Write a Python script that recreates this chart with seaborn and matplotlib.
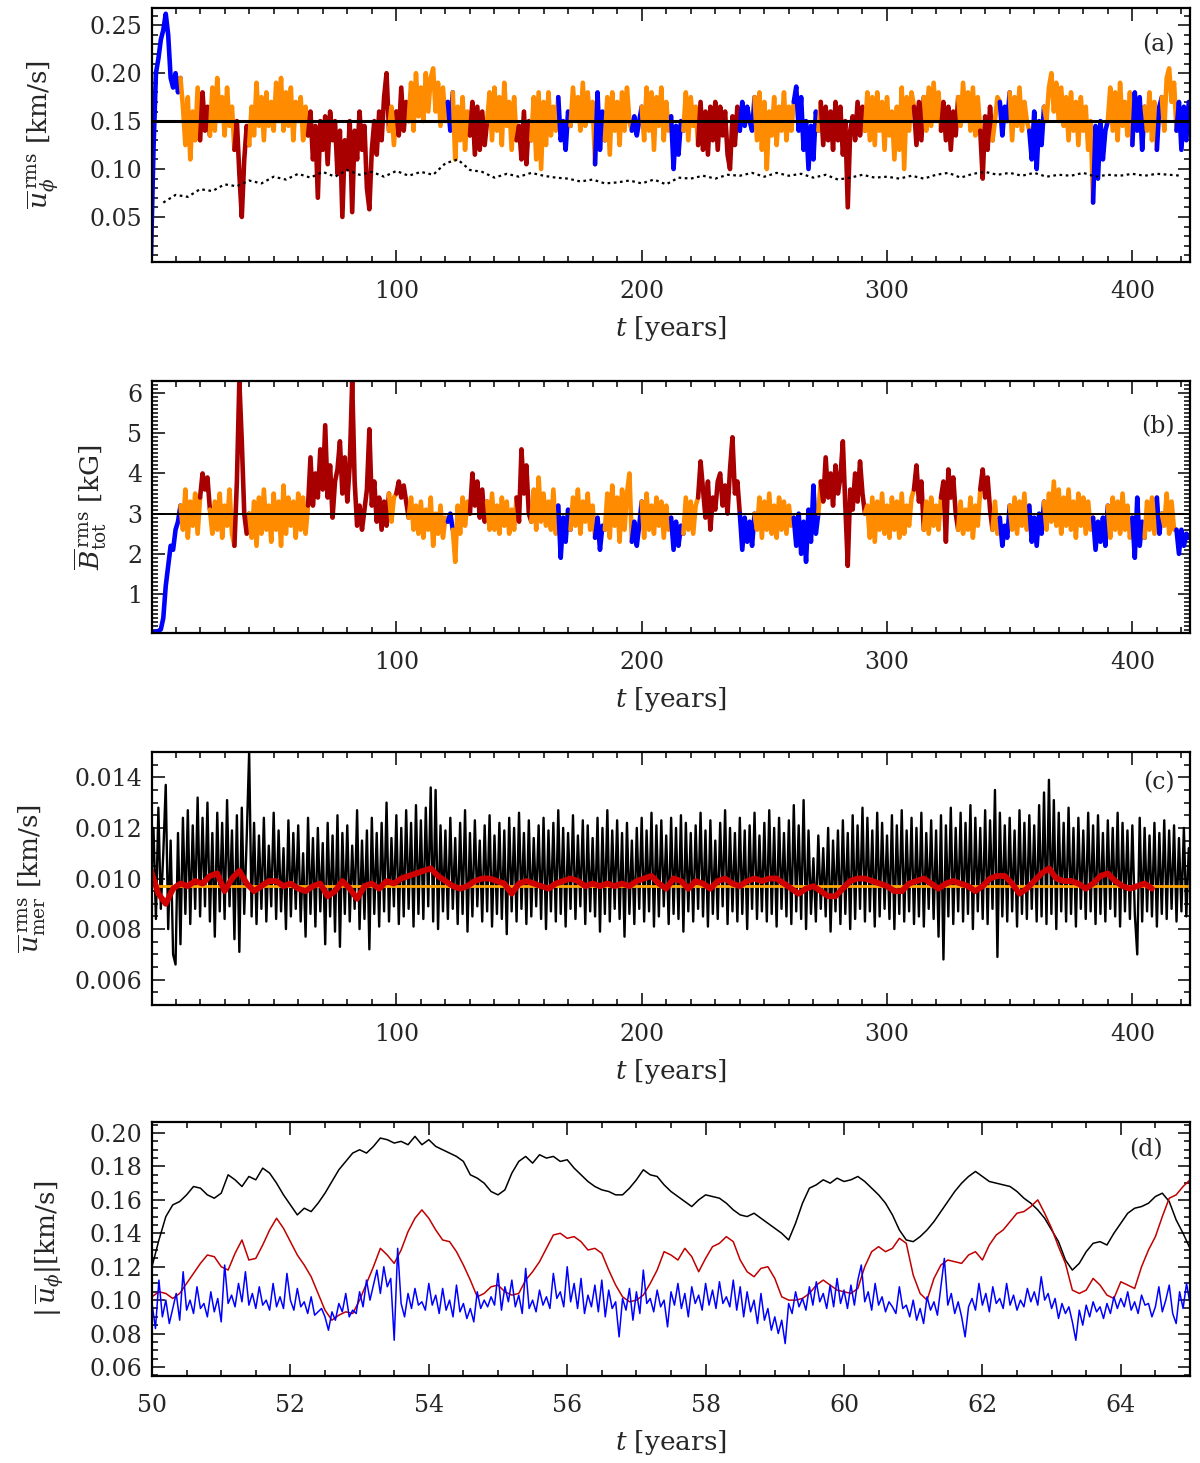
import numpy as np
import matplotlib
matplotlib.use('Agg')
import matplotlib.pyplot as plt
import seaborn as sns
from matplotlib.ticker import MultipleLocator

# ---------------------------------------------------------------------------
# Data
# ---------------------------------------------------------------------------

# (a) rms toroidal flow [km/s], one value per year from t = 0
u_phi_rms = [
    0.010, 0.120, 0.200, 0.215, 0.235, 0.245, 0.262, 0.240, 0.195, 0.185,
    0.200, 0.180, 0.195, 0.165, 0.125, 0.175, 0.110, 0.160, 0.130, 0.185,
    0.130, 0.180, 0.140, 0.165, 0.135, 0.185, 0.140, 0.195, 0.150, 0.175,
    0.135, 0.185, 0.145, 0.165, 0.120, 0.150, 0.095, 0.050, 0.110, 0.145,
    0.125, 0.165, 0.135, 0.190, 0.145, 0.175, 0.130, 0.180, 0.145, 0.170,
    0.140, 0.190, 0.150, 0.195, 0.140, 0.180, 0.145, 0.185, 0.130, 0.170,
    0.150, 0.175, 0.130, 0.165, 0.135, 0.160, 0.110, 0.145, 0.070, 0.150,
    0.120, 0.155, 0.105, 0.160, 0.130, 0.150, 0.095, 0.140, 0.050, 0.130,
    0.100, 0.150, 0.055, 0.140, 0.110, 0.160, 0.120, 0.145, 0.080, 0.058,
    0.120, 0.150, 0.115, 0.160, 0.130, 0.175, 0.200, 0.140, 0.165, 0.125,
    0.160, 0.135, 0.185, 0.140, 0.170, 0.150, 0.190, 0.140, 0.200, 0.155,
    0.185, 0.150, 0.200, 0.160, 0.195, 0.205, 0.160, 0.190, 0.145, 0.185,
    0.150, 0.170, 0.140, 0.180, 0.110, 0.165, 0.130, 0.175, 0.120, 0.160,
    0.135, 0.170, 0.115, 0.165, 0.120, 0.160, 0.125, 0.150, 0.180, 0.130,
    0.185, 0.140, 0.175, 0.125, 0.190, 0.145, 0.170, 0.120, 0.175, 0.130,
    0.145, 0.110, 0.160, 0.105, 0.150, 0.130, 0.175, 0.110, 0.180, 0.100,
    0.170, 0.125, 0.180, 0.135, 0.165, 0.140, 0.175, 0.130, 0.150, 0.120,
    0.160, 0.145, 0.185, 0.150, 0.175, 0.140, 0.190, 0.145, 0.180, 0.150,
    0.170, 0.105, 0.180, 0.120, 0.160, 0.130, 0.175, 0.115, 0.180, 0.140,
    0.170, 0.125, 0.180, 0.140, 0.185, 0.150, 0.140, 0.155, 0.135, 0.150,
    0.165, 0.130, 0.185, 0.140, 0.180, 0.120, 0.175, 0.145, 0.185, 0.130,
    0.170, 0.140, 0.155, 0.100, 0.145, 0.115, 0.150, 0.140, 0.180, 0.130,
    0.175, 0.145, 0.165, 0.125, 0.170, 0.120, 0.160, 0.115, 0.165, 0.130,
    0.170, 0.120, 0.165, 0.135, 0.160, 0.115, 0.100, 0.155, 0.125, 0.165,
    0.140, 0.170, 0.145, 0.165, 0.150, 0.140, 0.175, 0.130, 0.180, 0.120,
    0.170, 0.100, 0.160, 0.135, 0.175, 0.125, 0.165, 0.140, 0.180, 0.130,
    0.165, 0.140, 0.170, 0.186, 0.140, 0.175, 0.120, 0.150, 0.100, 0.145,
    0.110, 0.160, 0.140, 0.170, 0.125, 0.165, 0.130, 0.160, 0.120, 0.170,
    0.130, 0.165, 0.115, 0.150, 0.060, 0.140, 0.155, 0.130, 0.170, 0.135,
    0.165, 0.140, 0.180, 0.130, 0.175, 0.125, 0.180, 0.140, 0.170, 0.120,
    0.175, 0.135, 0.160, 0.110, 0.165, 0.120, 0.185, 0.100, 0.175, 0.140,
    0.180, 0.165, 0.125, 0.170, 0.130, 0.175, 0.140, 0.185, 0.145, 0.190,
    0.150, 0.180, 0.140, 0.170, 0.130, 0.165, 0.120, 0.160, 0.135, 0.175,
    0.145, 0.190, 0.150, 0.180, 0.140, 0.185, 0.135, 0.175, 0.140, 0.090,
    0.155, 0.120, 0.165, 0.130, 0.150, 0.175, 0.170, 0.135, 0.165, 0.150,
    0.180, 0.130, 0.175, 0.145, 0.185, 0.140, 0.170, 0.150, 0.140, 0.110,
    0.160, 0.100, 0.150, 0.125, 0.165, 0.150, 0.185, 0.200, 0.160, 0.190,
    0.150, 0.185, 0.145, 0.175, 0.130, 0.180, 0.140, 0.170, 0.125, 0.175,
    0.140, 0.165, 0.120, 0.150, 0.065, 0.145, 0.090, 0.150, 0.110, 0.140,
    0.150, 0.185, 0.140, 0.180, 0.130, 0.190, 0.145, 0.170, 0.135, 0.180,
    0.125, 0.180, 0.140, 0.175, 0.120, 0.165, 0.140, 0.180, 0.130, 0.170,
    0.120, 0.165, 0.175, 0.140, 0.195, 0.205, 0.170, 0.190, 0.140, 0.170,
    0.120, 0.165, 0.130, 0.170,
]

# (a) dotted black curve, every 5 years from t = 5
u_phi_ref = [
    0.065, 0.073, 0.071, 0.079, 0.077, 0.084, 0.082, 0.088, 0.085, 0.092,
    0.089, 0.095, 0.091, 0.097, 0.092, 0.099, 0.094, 0.097, 0.092, 0.098,
    0.093, 0.097, 0.094, 0.106, 0.110, 0.099, 0.097, 0.091, 0.095, 0.092,
    0.096, 0.093, 0.091, 0.090, 0.087, 0.089, 0.085, 0.086, 0.088, 0.085,
    0.089, 0.084, 0.091, 0.090, 0.093, 0.090, 0.094, 0.093, 0.096, 0.092,
    0.096, 0.093, 0.095, 0.091, 0.094, 0.089, 0.091, 0.094, 0.091, 0.092,
    0.090, 0.093, 0.090, 0.094, 0.096, 0.091, 0.095, 0.097, 0.094, 0.096,
    0.093, 0.096, 0.092, 0.094, 0.093, 0.096, 0.092, 0.094, 0.093, 0.095,
    0.093, 0.095, 0.094, 0.093,
]

# (b) rms total magnetic field [kG], one value per year from t = 0
b_tot_rms = [
    0.05, 0.05, 0.06, 0.08, 0.12, 0.40, 1.20, 1.70, 2.20, 2.10,
    2.60, 2.80, 3.20, 2.60, 3.60, 2.40, 3.30, 2.70, 3.50, 2.50,
    3.40, 4.00, 3.60, 3.90, 3.10, 2.50, 3.30, 2.60, 3.50, 2.40,
    3.20, 2.70, 3.60, 2.50, 2.20, 3.80, 6.30, 4.80, 3.00, 2.50,
    3.00, 2.40, 3.30, 2.20, 3.40, 2.50, 3.60, 2.60, 3.20, 2.30,
    3.50, 2.60, 3.30, 2.20, 3.70, 2.50, 3.40, 2.70, 3.30, 2.40,
    3.50, 2.60, 3.40, 2.50, 3.20, 4.40, 3.20, 4.00, 3.40, 4.60,
    3.60, 5.20, 3.40, 4.20, 2.90, 3.80, 4.10, 4.80, 3.50, 4.40,
    3.30, 4.20, 6.30, 3.80, 2.70, 3.20, 2.60, 3.10, 3.60, 5.10,
    3.20, 3.80, 2.80, 3.40, 2.60, 3.30, 2.70, 3.50, 2.80, 3.40,
    3.50, 3.80, 3.40, 3.70, 3.30, 2.90, 3.40, 2.60, 3.20, 2.50,
    3.30, 2.40, 3.10, 2.60, 3.40, 2.20, 3.00, 2.50, 3.20, 2.40,
    2.90, 2.80, 3.00, 2.60, 1.80, 3.20, 2.50, 3.40, 2.70, 3.30,
    3.00, 4.00, 3.20, 3.80, 2.90, 3.60, 2.80, 3.30, 2.60, 3.50,
    2.60, 3.20, 2.50, 3.40, 2.70, 3.30, 2.50, 3.10, 2.60, 3.40,
    2.80, 4.60, 3.50, 4.20, 3.00, 2.80, 3.60, 2.60, 3.90, 2.80,
    3.50, 2.70, 3.30, 2.60, 3.60, 2.50, 3.20, 1.90, 2.90, 2.30,
    3.10, 2.60, 3.40, 2.70, 3.60, 2.50, 3.30, 2.80, 3.50, 2.60,
    3.20, 2.40, 2.90, 2.10, 2.70, 2.60, 3.50, 2.40, 3.70, 2.70,
    3.40, 2.30, 3.60, 2.60, 3.50, 4.00, 2.30, 2.80, 2.20, 2.70,
    3.30, 2.40, 3.50, 2.60, 3.20, 2.50, 3.40, 2.70, 3.30, 2.40,
    3.20, 2.60, 2.90, 2.10, 2.80, 2.20, 2.70, 2.50, 3.40, 2.60,
    3.30, 2.50, 3.20, 3.40, 4.30, 3.60, 2.90, 3.80, 2.60, 3.40,
    3.10, 3.80, 4.00, 3.20, 3.70, 3.00, 4.10, 4.90, 3.50, 3.80,
    3.00, 2.10, 2.90, 2.30, 2.80, 2.20, 3.00, 2.60, 3.40, 2.40,
    3.30, 2.60, 3.50, 2.50, 3.20, 2.40, 3.40, 2.60, 3.30, 2.50,
    3.20, 2.70, 2.90, 2.20, 3.00, 2.00, 2.80, 1.80, 3.10, 2.30,
    3.70, 2.50, 3.00, 3.80, 3.30, 4.40, 3.40, 4.00, 3.20, 4.20,
    3.50, 3.90, 4.80, 3.20, 1.70, 3.60, 3.10, 4.00, 3.30, 4.30,
    3.50, 3.00, 3.20, 2.40, 3.40, 2.30, 3.30, 2.60, 3.50, 2.50,
    3.20, 2.40, 3.40, 2.60, 3.30, 2.40, 3.50, 2.50, 3.20, 2.70,
    3.40, 3.60, 4.20, 3.30, 3.80, 2.60, 3.30, 2.50, 3.40, 2.70,
    3.20, 2.60, 3.40, 3.80, 2.30, 4.10, 3.40, 3.90, 3.00, 2.60,
    3.30, 2.50, 3.10, 2.60, 3.40, 2.40, 3.20, 2.70, 3.60, 4.10,
    3.40, 3.90, 3.10, 2.60, 3.30, 2.50, 2.90, 2.20, 2.70, 2.40,
    3.20, 2.60, 3.40, 2.50, 3.30, 2.70, 3.50, 2.60, 3.20, 2.30,
    2.90, 2.20, 3.00, 2.50, 3.30, 2.60, 3.50, 2.80, 3.80, 2.70,
    3.60, 2.50, 3.40, 2.70, 3.60, 2.60, 3.30, 2.40, 3.50, 2.70,
    3.40, 2.50, 3.30, 2.60, 2.90, 2.10, 2.80, 2.30, 2.90, 2.20,
    3.20, 2.40, 3.40, 2.60, 3.30, 2.50, 3.50, 2.60, 3.20, 2.40,
    2.90, 1.90, 3.40, 2.20, 2.80, 2.40, 3.30, 2.60, 3.40, 2.50,
    3.40, 2.50, 3.00, 2.70, 3.50, 2.50, 3.30, 2.60, 2.60, 2.00,
    2.60, 2.20, 2.50, 2.40,
]

# dynamo phase of each stretch of time (colours of panels a and b)
phase_edges = [0, 12, 20, 24, 34, 40, 64, 97, 100, 105,
               121, 123, 130, 137, 149, 155, 166, 171, 181, 185,
               196, 200, 212, 217, 223, 240, 246, 262, 272, 273,
               291, 311, 315, 322, 329, 338, 343, 346, 350, 358,
               364, 384, 390, 400, 405, 410, 412, 418, 423]
phase_kind = ['low', 'mid', 'high', 'mid', 'high', 'mid', 'high', 'mid', 'high', 'mid',
              'low', 'mid', 'high', 'mid', 'high', 'mid', 'low', 'mid', 'low', 'mid',
              'low', 'mid', 'low', 'mid', 'high', 'low', 'mid', 'low', 'mid', 'high',
              'mid', 'high', 'mid', 'high', 'mid', 'high', 'mid', 'low', 'mid', 'low',
              'mid', 'low', 'mid', 'low', 'mid', 'low', 'mid', 'low']

# (c) rms meridional flow [km/s], one value per year from t = 0
u_mer_rms = [
    0.0098, 0.0120, 0.0084, 0.0128, 0.0088, 0.0110, 0.0137, 0.0080, 0.0115, 0.0070,
    0.0066, 0.0118, 0.0074, 0.0124, 0.0086, 0.0127, 0.0082, 0.0121, 0.0088, 0.0132,
    0.0085, 0.0124, 0.0089, 0.0130, 0.0083, 0.0118, 0.0077, 0.0126, 0.0087, 0.0122,
    0.0084, 0.0131, 0.0089, 0.0119, 0.0076, 0.0125, 0.0071, 0.0128, 0.0086, 0.0116,
    0.0150, 0.0085, 0.0122, 0.0082, 0.0117, 0.0088, 0.0124, 0.0083, 0.0113, 0.0089,
    0.0126, 0.0084, 0.0119, 0.0087, 0.0112, 0.0080, 0.0123, 0.0085, 0.0118, 0.0088,
    0.0121, 0.0083, 0.0110, 0.0077, 0.0124, 0.0086, 0.0116, 0.0081, 0.0120, 0.0087,
    0.0114, 0.0074, 0.0122, 0.0085, 0.0117, 0.0079, 0.0125, 0.0073, 0.0118, 0.0086,
    0.0121, 0.0083, 0.0113, 0.0088, 0.0127, 0.0080, 0.0115, 0.0084, 0.0119, 0.0072,
    0.0124, 0.0086, 0.0118, 0.0081, 0.0122, 0.0087, 0.0130, 0.0083, 0.0116, 0.0089,
    0.0125, 0.0082, 0.0120, 0.0085, 0.0127, 0.0088, 0.0122, 0.0081, 0.0129, 0.0086,
    0.0123, 0.0084, 0.0128, 0.0089, 0.0136, 0.0083, 0.0135, 0.0080, 0.0121, 0.0087,
    0.0119, 0.0084, 0.0124, 0.0088, 0.0116, 0.0082, 0.0122, 0.0086, 0.0127, 0.0079,
    0.0118, 0.0085, 0.0123, 0.0089, 0.0115, 0.0083, 0.0121, 0.0087, 0.0125, 0.0081,
    0.0117, 0.0086, 0.0122, 0.0084, 0.0119, 0.0078, 0.0124, 0.0087, 0.0120, 0.0083,
    0.0126, 0.0088, 0.0118, 0.0082, 0.0123, 0.0085, 0.0116, 0.0089, 0.0121, 0.0084,
    0.0124, 0.0080, 0.0119, 0.0087, 0.0122, 0.0083, 0.0127, 0.0086, 0.0120, 0.0081,
    0.0118, 0.0088, 0.0125, 0.0084, 0.0117, 0.0089, 0.0123, 0.0082, 0.0121, 0.0087,
    0.0116, 0.0085, 0.0124, 0.0079, 0.0120, 0.0086, 0.0127, 0.0083, 0.0119, 0.0088,
    0.0123, 0.0084, 0.0118, 0.0077, 0.0122, 0.0086, 0.0115, 0.0082, 0.0120, 0.0088,
    0.0124, 0.0083, 0.0119, 0.0087, 0.0126, 0.0081, 0.0121, 0.0085, 0.0123, 0.0089,
    0.0117, 0.0082, 0.0124, 0.0086, 0.0120, 0.0084, 0.0125, 0.0079, 0.0122, 0.0087,
    0.0118, 0.0083, 0.0121, 0.0088, 0.0126, 0.0085, 0.0119, 0.0081, 0.0123, 0.0086,
    0.0115, 0.0084, 0.0122, 0.0089, 0.0127, 0.0082, 0.0120, 0.0087, 0.0118, 0.0083,
    0.0124, 0.0086, 0.0119, 0.0080, 0.0121, 0.0088, 0.0126, 0.0084, 0.0117, 0.0087,
    0.0122, 0.0083, 0.0127, 0.0086, 0.0120, 0.0081, 0.0124, 0.0088, 0.0118, 0.0085,
    0.0123, 0.0082, 0.0129, 0.0087, 0.0121, 0.0084, 0.0131, 0.0080, 0.0119, 0.0086,
    0.0108, 0.0083, 0.0117, 0.0088, 0.0112, 0.0085, 0.0120, 0.0079, 0.0115, 0.0087,
    0.0119, 0.0082, 0.0123, 0.0086, 0.0118, 0.0080, 0.0125, 0.0084, 0.0121, 0.0088,
    0.0128, 0.0083, 0.0124, 0.0087, 0.0119, 0.0081, 0.0126, 0.0085, 0.0122, 0.0088,
    0.0117, 0.0084, 0.0125, 0.0080, 0.0121, 0.0086, 0.0127, 0.0083, 0.0119, 0.0087,
    0.0124, 0.0082, 0.0120, 0.0085, 0.0126, 0.0081, 0.0118, 0.0088, 0.0123, 0.0084,
    0.0119, 0.0077, 0.0125, 0.0068, 0.0121, 0.0085, 0.0128, 0.0082, 0.0120, 0.0087,
    0.0126, 0.0083, 0.0122, 0.0086, 0.0129, 0.0080, 0.0124, 0.0087, 0.0120, 0.0084,
    0.0127, 0.0082, 0.0123, 0.0088, 0.0135, 0.0069, 0.0126, 0.0085, 0.0121, 0.0083,
    0.0124, 0.0087, 0.0119, 0.0081, 0.0127, 0.0086, 0.0122, 0.0084, 0.0125, 0.0088,
    0.0121, 0.0083, 0.0129, 0.0085, 0.0134, 0.0082, 0.0139, 0.0086, 0.0131, 0.0080,
    0.0126, 0.0087, 0.0122, 0.0083, 0.0128, 0.0086, 0.0120, 0.0081, 0.0124, 0.0088,
    0.0119, 0.0084, 0.0126, 0.0087, 0.0121, 0.0082, 0.0125, 0.0086, 0.0118, 0.0083,
    0.0123, 0.0088, 0.0120, 0.0085, 0.0126, 0.0081, 0.0122, 0.0087, 0.0119, 0.0084,
    0.0121, 0.0086, 0.0070, 0.0124, 0.0083, 0.0120, 0.0087, 0.0117, 0.0085, 0.0122,
    0.0081, 0.0118, 0.0086, 0.0123, 0.0084, 0.0119, 0.0088, 0.0121, 0.0083, 0.0116,
    0.0087, 0.0120, 0.0085, 0.0112,
]

# (c) running mean, every 3 years from t = 0
u_mer_smooth = [
    0.0103, 0.0094, 0.0090, 0.0096, 0.0098, 0.0097, 0.0099, 0.0098, 0.0101, 0.0102,
    0.0095, 0.0100, 0.0103, 0.0098, 0.0095, 0.0097, 0.0099, 0.0099, 0.0097, 0.0098,
    0.0096, 0.0095, 0.0097, 0.0098, 0.0093, 0.0095, 0.0099, 0.0096, 0.0092, 0.0097,
    0.0098, 0.0096, 0.0099, 0.0098, 0.0100, 0.0101, 0.0102, 0.0103, 0.0104, 0.0101,
    0.0099, 0.0097, 0.0096, 0.0097, 0.0099, 0.0100, 0.0100, 0.0099, 0.0098, 0.0094,
    0.0098, 0.0099, 0.0098, 0.0097, 0.0096, 0.0098, 0.0099, 0.0100, 0.0099, 0.0097,
    0.0098, 0.0097, 0.0098, 0.0097, 0.0098, 0.0097, 0.0099, 0.0100, 0.0101, 0.0098,
    0.0096, 0.0100, 0.0099, 0.0096, 0.0099, 0.0098, 0.0096, 0.0099, 0.0100, 0.0098,
    0.0097, 0.0099, 0.0100, 0.0099, 0.0100, 0.0100, 0.0098, 0.0096, 0.0094, 0.0096,
    0.0097, 0.0095, 0.0093, 0.0093, 0.0096, 0.0099, 0.0100, 0.0100, 0.0099, 0.0098,
    0.0097, 0.0095, 0.0095, 0.0098, 0.0099, 0.0100, 0.0098, 0.0096, 0.0098, 0.0099,
    0.0098, 0.0097, 0.0095, 0.0097, 0.0100, 0.0101, 0.0101, 0.0098, 0.0094, 0.0096,
    0.0099, 0.0102, 0.0104, 0.0100, 0.0099, 0.0099, 0.0098, 0.0096, 0.0098, 0.0101,
    0.0102, 0.0099, 0.0097, 0.0096, 0.0097, 0.0098, 0.0096,
]
u_mer_mean = 0.0097

# (d) zoom on 50-65 yr: |u_phi| at three depths [km/s]
u_phi_top = [
    0.120, 0.136, 0.150, 0.157, 0.159, 0.163, 0.168, 0.167, 0.163, 0.161,
    0.164, 0.175, 0.172, 0.168, 0.174, 0.172, 0.179, 0.176, 0.170, 0.163,
    0.157, 0.151, 0.155, 0.153, 0.158, 0.164, 0.171, 0.178, 0.183, 0.188,
    0.190, 0.188, 0.192, 0.197, 0.196, 0.194, 0.195, 0.193, 0.198, 0.193,
    0.196, 0.192, 0.190, 0.188, 0.186, 0.183, 0.175, 0.173, 0.170, 0.165,
    0.163, 0.166, 0.176, 0.183, 0.186, 0.182, 0.187, 0.185, 0.186, 0.183,
    0.184, 0.179, 0.175, 0.171, 0.168, 0.166, 0.165, 0.163, 0.163, 0.167,
    0.172, 0.178, 0.175, 0.174, 0.169, 0.165, 0.162, 0.159, 0.156, 0.160,
    0.163, 0.162, 0.161, 0.158, 0.154, 0.151, 0.150, 0.152, 0.149, 0.146,
    0.143, 0.140, 0.136, 0.146, 0.158, 0.167, 0.169, 0.172, 0.170, 0.173,
    0.171, 0.172, 0.174, 0.171, 0.167, 0.163, 0.158, 0.151, 0.142, 0.136,
    0.135, 0.138, 0.142, 0.147, 0.153, 0.159, 0.165, 0.170, 0.174, 0.177,
    0.174, 0.171, 0.170, 0.169, 0.168, 0.165, 0.161, 0.158, 0.154, 0.149,
    0.142, 0.135, 0.124, 0.118, 0.122, 0.129, 0.134, 0.135, 0.133, 0.140,
    0.146, 0.152, 0.155, 0.156, 0.158, 0.162, 0.164, 0.159, 0.148, 0.140,
    0.131,
]
u_phi_mid = [
    0.102, 0.105, 0.104, 0.101, 0.104, 0.110, 0.116, 0.122, 0.127, 0.126,
    0.120, 0.118, 0.128, 0.136, 0.124, 0.125, 0.133, 0.142, 0.149, 0.143,
    0.135, 0.127, 0.121, 0.114, 0.104, 0.094, 0.088, 0.091, 0.093, 0.092,
    0.100, 0.110, 0.120, 0.131, 0.127, 0.122, 0.130, 0.141, 0.149, 0.154,
    0.149, 0.142, 0.136, 0.135, 0.129, 0.121, 0.112, 0.102, 0.104, 0.108,
    0.109, 0.105, 0.103, 0.104, 0.112, 0.117, 0.123, 0.131, 0.139, 0.140,
    0.137, 0.138, 0.135, 0.130, 0.131, 0.128, 0.118, 0.109, 0.102, 0.099,
    0.100, 0.103, 0.110, 0.118, 0.129, 0.127, 0.124, 0.131, 0.126, 0.117,
    0.125, 0.132, 0.134, 0.138, 0.135, 0.124, 0.117, 0.114, 0.119, 0.120,
    0.113, 0.102, 0.100, 0.100, 0.101, 0.104, 0.109, 0.112, 0.109, 0.106,
    0.105, 0.104, 0.107, 0.120, 0.129, 0.132, 0.129, 0.131, 0.137, 0.134,
    0.115, 0.104, 0.100, 0.113, 0.121, 0.124, 0.123, 0.122, 0.127, 0.129,
    0.124, 0.133, 0.139, 0.142, 0.147, 0.152, 0.153, 0.156, 0.160, 0.152,
    0.143, 0.132, 0.122, 0.106, 0.104, 0.106, 0.113, 0.109, 0.103, 0.101,
    0.111, 0.109, 0.107, 0.120, 0.130, 0.138, 0.150, 0.161, 0.163, 0.168,
    0.172,
]
u_phi_bot = [
    0.098, 0.083, 0.112, 0.090, 0.100, 0.086, 0.095, 0.104, 0.088, 0.117,
    0.094, 0.100, 0.092, 0.108, 0.095, 0.098, 0.090, 0.105, 0.093, 0.101,
    0.087, 0.121, 0.098, 0.103, 0.096, 0.110, 0.099, 0.117, 0.097, 0.104,
    0.095, 0.108, 0.097, 0.100, 0.094, 0.110, 0.096, 0.102, 0.095, 0.116,
    0.100, 0.094, 0.107, 0.096, 0.099, 0.092, 0.102, 0.091, 0.093, 0.095,
    0.090, 0.082, 0.093, 0.088, 0.098, 0.093, 0.104, 0.090, 0.094, 0.092,
    0.105, 0.096, 0.112, 0.100, 0.109, 0.118, 0.104, 0.120, 0.108, 0.113,
    0.076, 0.131, 0.098, 0.090, 0.104, 0.095, 0.107, 0.097, 0.099, 0.094,
    0.110, 0.097, 0.103, 0.092, 0.107, 0.094, 0.100, 0.090, 0.109, 0.093,
    0.098, 0.089, 0.095, 0.087, 0.105, 0.095, 0.100, 0.096, 0.102, 0.097,
    0.116, 0.094, 0.108, 0.099, 0.112, 0.096, 0.103, 0.092, 0.119, 0.095,
    0.100, 0.093, 0.106, 0.097, 0.102, 0.095, 0.116, 0.101, 0.105, 0.096,
    0.120, 0.099, 0.110, 0.095, 0.113, 0.092, 0.103, 0.096, 0.109, 0.093,
    0.112, 0.090, 0.106, 0.095, 0.099, 0.078, 0.101, 0.094, 0.107, 0.088,
    0.105, 0.092, 0.118, 0.098, 0.101, 0.093, 0.106, 0.096, 0.100, 0.084,
    0.105, 0.097, 0.110, 0.095, 0.104, 0.090, 0.108, 0.098, 0.103, 0.094,
    0.110, 0.097, 0.106, 0.095, 0.111, 0.098, 0.102, 0.096, 0.112, 0.094,
    0.108, 0.090, 0.105, 0.093, 0.100, 0.086, 0.104, 0.088, 0.095, 0.082,
    0.090, 0.080, 0.088, 0.074, 0.098, 0.092, 0.105, 0.096, 0.101, 0.094,
    0.108, 0.097, 0.111, 0.099, 0.104, 0.095, 0.109, 0.096, 0.113, 0.098,
    0.106, 0.095, 0.109, 0.097, 0.112, 0.121, 0.099, 0.105, 0.094, 0.110,
    0.097, 0.102, 0.093, 0.099, 0.096, 0.092, 0.108, 0.095, 0.097, 0.090,
    0.100, 0.088, 0.095, 0.086, 0.102, 0.094, 0.099, 0.091, 0.108, 0.125,
    0.097, 0.104, 0.092, 0.099, 0.090, 0.078, 0.096, 0.101, 0.094, 0.110,
    0.097, 0.104, 0.093, 0.108, 0.098, 0.101, 0.095, 0.110, 0.097, 0.103,
    0.094, 0.100, 0.096, 0.107, 0.099, 0.105, 0.097, 0.114, 0.100, 0.104,
    0.095, 0.101, 0.089, 0.098, 0.092, 0.096, 0.087, 0.076, 0.094, 0.085,
    0.097, 0.090, 0.099, 0.093, 0.096, 0.089, 0.098, 0.092, 0.102, 0.095,
    0.101, 0.096, 0.105, 0.094, 0.099, 0.092, 0.103, 0.097, 0.098, 0.090,
    0.096, 0.108, 0.093, 0.100, 0.109, 0.092, 0.086, 0.105, 0.095, 0.110,
    0.098,
]

# ---------------------------------------------------------------------------
# Style
# ---------------------------------------------------------------------------
sns.set_theme(style='ticks')
plt.rcParams['font.family'] = ['DejaVu Serif']
plt.rcParams['mathtext.fontset'] = 'dejavuserif'

PHASE_COLORS = {'low': '#0000FF', 'mid': '#FF8C00', 'high': '#A80000'}
TICK_FS = 17
LABEL_FS = 19


def style_axis(ax, xmaj, xmin, ymaj, ymin):
    ax.xaxis.set_major_locator(MultipleLocator(xmaj))
    ax.xaxis.set_minor_locator(MultipleLocator(xmin))
    ax.yaxis.set_major_locator(MultipleLocator(ymaj))
    ax.yaxis.set_minor_locator(MultipleLocator(ymin))
    ax.tick_params(which='both', direction='in', top=True, right=True,
                   color='black', width=1.1)
    ax.tick_params(which='major', length=9)
    ax.tick_params(which='minor', length=4.5)
    ax.tick_params(axis='x', which='major', pad=13, labelsize=TICK_FS)
    ax.tick_params(axis='y', which='major', pad=7, labelsize=TICK_FS)
    for sp in ax.spines.values():
        sp.set_linewidth(1.6)
        sp.set_color('black')
    ax.grid(False)


def draw_phases(ax, t, values, lw):
    t = np.asarray(t)
    values = np.asarray(values)
    for k, kind in enumerate(phase_kind):
        m = (t >= phase_edges[k]) & (t <= phase_edges[k + 1])
        sns.lineplot(x=t[m], y=values[m], color=PHASE_COLORS[kind], lw=lw,
                     estimator=None, sort=False, ax=ax)


fig = plt.figure(figsize=(12, 14.63), dpi=100)
W = 1200.0
H = 1463.0


def add_panel(top, bottom):
    return fig.add_axes([152 / W, 1 - bottom / H, (1190 - 152) / W, (bottom - top) / H])


t_year = np.arange(len(u_phi_rms))

# ---------------------------------------------------------------------------
# (a)
# ---------------------------------------------------------------------------
ax = add_panel(8, 262)
draw_phases(ax, t_year, u_phi_rms, 3.3)
t_ref = 5 + 5 * np.arange(len(u_phi_ref))
sns.lineplot(x=t_ref, y=u_phi_ref, color='black', lw=1.6, linestyle=(0, (1.2, 1.6)),
             estimator=None, sort=False, ax=ax)
ax.axhline(0.15, color='black', lw=2.2)
ax.set_xlim(0.4, 423.5)
ax.set_ylim(0.003, 0.268)
style_axis(ax, 100, 10, 0.05, 0.01)
ax.yaxis.set_major_formatter(matplotlib.ticker.FormatStrFormatter('%.2f'))
ax.set_ylabel(r'$\overline{u}_\phi^{\,\rm rms}$ [km/s]', fontsize=LABEL_FS)
ax.yaxis.set_label_coords(-0.087, 0.5)
ax.set_xlabel(r'$t$ [years]', fontsize=LABEL_FS)
ax.xaxis.set_label_coords(0.5, -0.205)
ax.text(0.985, 0.855, '(a)', transform=ax.transAxes, ha='right', va='center',
        fontsize=TICK_FS)

# ---------------------------------------------------------------------------
# (b)
# ---------------------------------------------------------------------------
ax = add_panel(381, 633)
draw_phases(ax, t_year, b_tot_rms, 3.3)
ax.axhline(3.0, color='black', lw=1.4)
ax.set_xlim(0.4, 423.5)
ax.set_ylim(0.03, 6.3)
style_axis(ax, 100, 10, 1, 0.1)
ax.set_ylabel(r'$\overline{B}_{\rm tot}^{\,\rm rms}$ [kG]', fontsize=LABEL_FS)
ax.yaxis.set_label_coords(-0.041, 0.5)
ax.set_xlabel(r'$t$ [years]', fontsize=LABEL_FS)
ax.xaxis.set_label_coords(0.5, -0.205)
ax.text(0.985, 0.82, '(b)', transform=ax.transAxes, ha='right', va='center',
        fontsize=TICK_FS)

# ---------------------------------------------------------------------------
# (c)
# ---------------------------------------------------------------------------
ax = add_panel(752, 1005)
sns.lineplot(x=t_year, y=u_mer_rms, color='black', lw=1.7,
             estimator=None, sort=False, ax=ax)
ax.axhline(u_mer_mean, color='#FFA500', lw=2.0)
t_smooth = 3 * np.arange(len(u_mer_smooth))
sns.lineplot(x=t_smooth, y=u_mer_smooth, color='#D00000', lw=4.2,
             estimator=None, sort=False, ax=ax)
ax.set_xlim(0.4, 423.5)
ax.set_ylim(0.005, 0.015)
style_axis(ax, 100, 10, 0.002, 0.0005)
ax.yaxis.set_major_formatter(matplotlib.ticker.FormatStrFormatter('%.3f'))
ax.set_ylabel(r'$\overline{u}_{\rm mer}^{\,\rm rms}$ [km/s]', fontsize=LABEL_FS)
ax.yaxis.set_label_coords(-0.100, 0.5)
ax.set_xlabel(r'$t$ [years]', fontsize=LABEL_FS)
ax.xaxis.set_label_coords(0.5, -0.205)
ax.text(0.985, 0.88, '(c)', transform=ax.transAxes, ha='right', va='center',
        fontsize=TICK_FS)

# ---------------------------------------------------------------------------
# (d)
# ---------------------------------------------------------------------------
ax = add_panel(1122, 1376)
t_zoom = 50 + 0.1 * np.arange(len(u_phi_top))
t_zoom_fine = 50 + 0.05 * np.arange(len(u_phi_bot))
sns.lineplot(x=t_zoom, y=u_phi_top, color='black', lw=1.1,
             estimator=None, sort=False, ax=ax)
sns.lineplot(x=t_zoom, y=u_phi_mid, color='#C00000', lw=1.1,
             estimator=None, sort=False, ax=ax)
sns.lineplot(x=t_zoom_fine, y=u_phi_bot, color='#0000FF', lw=1.1,
             estimator=None, sort=False, ax=ax)
ax.set_xlim(50, 65)
ax.set_ylim(0.0546, 0.2066)
style_axis(ax, 2, 0.5, 0.02, 0.005)
ax.yaxis.set_major_formatter(matplotlib.ticker.FormatStrFormatter('%.2f'))
ax.set_ylabel(r'$|\,\overline{u}_\phi|$[km/s]', fontsize=LABEL_FS)
ax.yaxis.set_label_coords(-0.082, 0.5)
ax.set_xlabel(r'$t$ [years]', fontsize=LABEL_FS)
ax.xaxis.set_label_coords(0.5, -0.205)
ax.text(0.974, 0.89, '(d)', transform=ax.transAxes, ha='right', va='center',
        fontsize=TICK_FS)

fig.savefig('out.png', dpi=100)
